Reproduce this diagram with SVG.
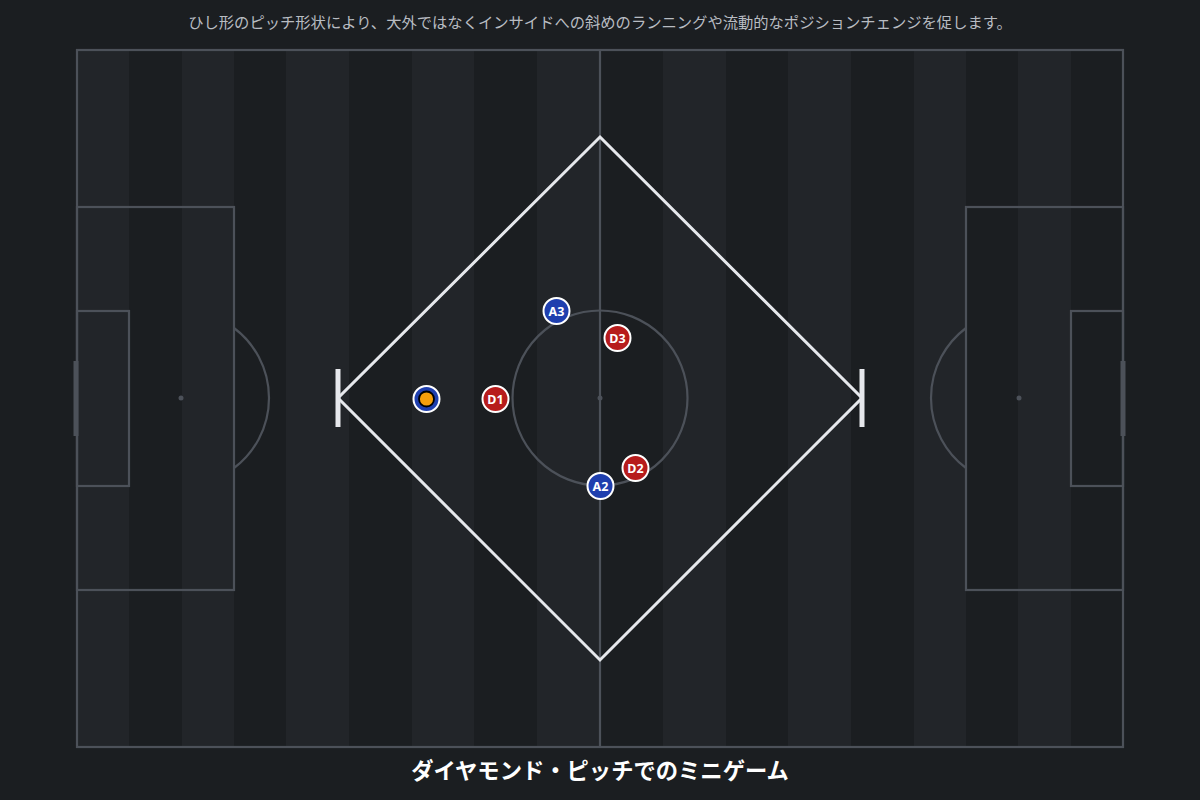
<svg xmlns="http://www.w3.org/2000/svg" width="1200" height="800" viewBox="0 0 1200 800">
<defs>
<style>
.bg{fill:#1b1e21}
.sl{fill:#222529}
.ln{fill:none;stroke:#4c5159;stroke-width:2.2}
.dm{fill:none;stroke:#e6e8ec;stroke-width:3;stroke-linejoin:miter}
.gp{stroke:#e6e8ec;stroke-width:5}
.pl{stroke:#ffffff;stroke-width:2}
.att{fill:#1f3fae}
.def{fill:#b71c1c}
.lbl{font-family:"Noto Sans","Noto Sans CJK JP",sans-serif;font-size:12.5px;font-weight:bold;fill:#ffffff;text-anchor:middle}
.sub{font-family:"Noto Sans CJK JP","Noto Sans",sans-serif;font-size:15.3px;fill:#b8bcc2;text-anchor:middle}
.ttl{font-family:"Noto Sans CJK JP","Noto Sans",sans-serif;font-size:22.3px;font-weight:bold;fill:#ffffff;text-anchor:middle}
</style>
</defs>
<rect class="bg" x="0" y="0" width="1200" height="800"/>
<g id="pitch">
<rect class="sl" x="77" y="50" width="52" height="697"/>
<rect class="sl" x="182" y="50" width="52" height="697"/>
<rect class="sl" x="286" y="50" width="63" height="697"/>
<rect class="sl" x="412" y="50" width="62" height="697"/>
<rect class="sl" x="537" y="50" width="63" height="697"/>
<rect class="sl" x="663" y="50" width="63" height="697"/>
<rect class="sl" x="788" y="50" width="63" height="697"/>
<rect class="sl" x="914" y="50" width="52" height="697"/>
<rect class="sl" x="1018" y="50" width="53" height="697"/>
<rect class="ln" x="77" y="50" width="1046" height="697"/>
<line class="ln" x1="600" y1="50" x2="600" y2="747"/>
<circle class="ln" cx="600" cy="398" r="87.5"/>
<circle cx="600" cy="398" r="2.5" fill="#4c5159"/>
<rect class="ln" x="77" y="207" width="157" height="383"/>
<rect class="ln" x="77" y="311" width="52" height="175"/>
<circle cx="181" cy="398" r="2.5" fill="#4c5159"/>
<path class="ln" d="M234,328 A87.5,87.5 0 0 1 234,468"/>
<line x1="76" y1="361" x2="76" y2="436" stroke="#4c5159" stroke-width="5"/>
<rect class="ln" x="966" y="207" width="157" height="383"/>
<rect class="ln" x="1071" y="311" width="52" height="175"/>
<circle cx="1019" cy="398" r="2.5" fill="#4c5159"/>
<path class="ln" d="M966,328 A87.5,87.5 0 0 0 966,468"/>
<line x1="1123" y1="361" x2="1123" y2="436" stroke="#4c5159" stroke-width="5"/>
</g>
<g id="diamond">
<polygon class="dm" points="600,137 862,398 600,660 338,398"/>
<line class="gp" x1="338" y1="369" x2="338" y2="427"/>
<line class="gp" x1="862" y1="369" x2="862" y2="427"/>
</g>
<g id="connectors"></g>
<g id="A1">
<circle class="att pl" cx="426.5" cy="399" r="13"/>
<circle cx="426.5" cy="399" r="7.5" fill="#f59e0b" stroke="#000" stroke-width="1.8"/>
</g>
<g id="A3"><circle class="att pl" cx="556.5" cy="311" r="13"/><text class="lbl" x="556.5" y="315.5">A3</text></g>
<g id="A2"><circle class="att pl" cx="600.5" cy="486" r="13"/><text class="lbl" x="600.5" y="490.5">A2</text></g>
<g id="D1"><circle class="def pl" cx="495.5" cy="399" r="13"/><text class="lbl" x="495.5" y="403.5">D1</text></g>
<g id="D2"><circle class="def pl" cx="635.5" cy="468" r="13"/><text class="lbl" x="635.5" y="472.5">D2</text></g>
<g id="D3"><circle class="def pl" cx="617.5" cy="338" r="13"/><text class="lbl" x="617.5" y="342.5">D3</text></g>
<text class="sub" x="600" y="28">ひし形のピッチ形状により、大外ではなくインサイドへの斜めのランニングや流動的なポジションチェンジを促します。</text>
<text class="ttl" x="600" y="779">ダイヤモンド・ピッチでのミニゲーム</text>
</svg>
